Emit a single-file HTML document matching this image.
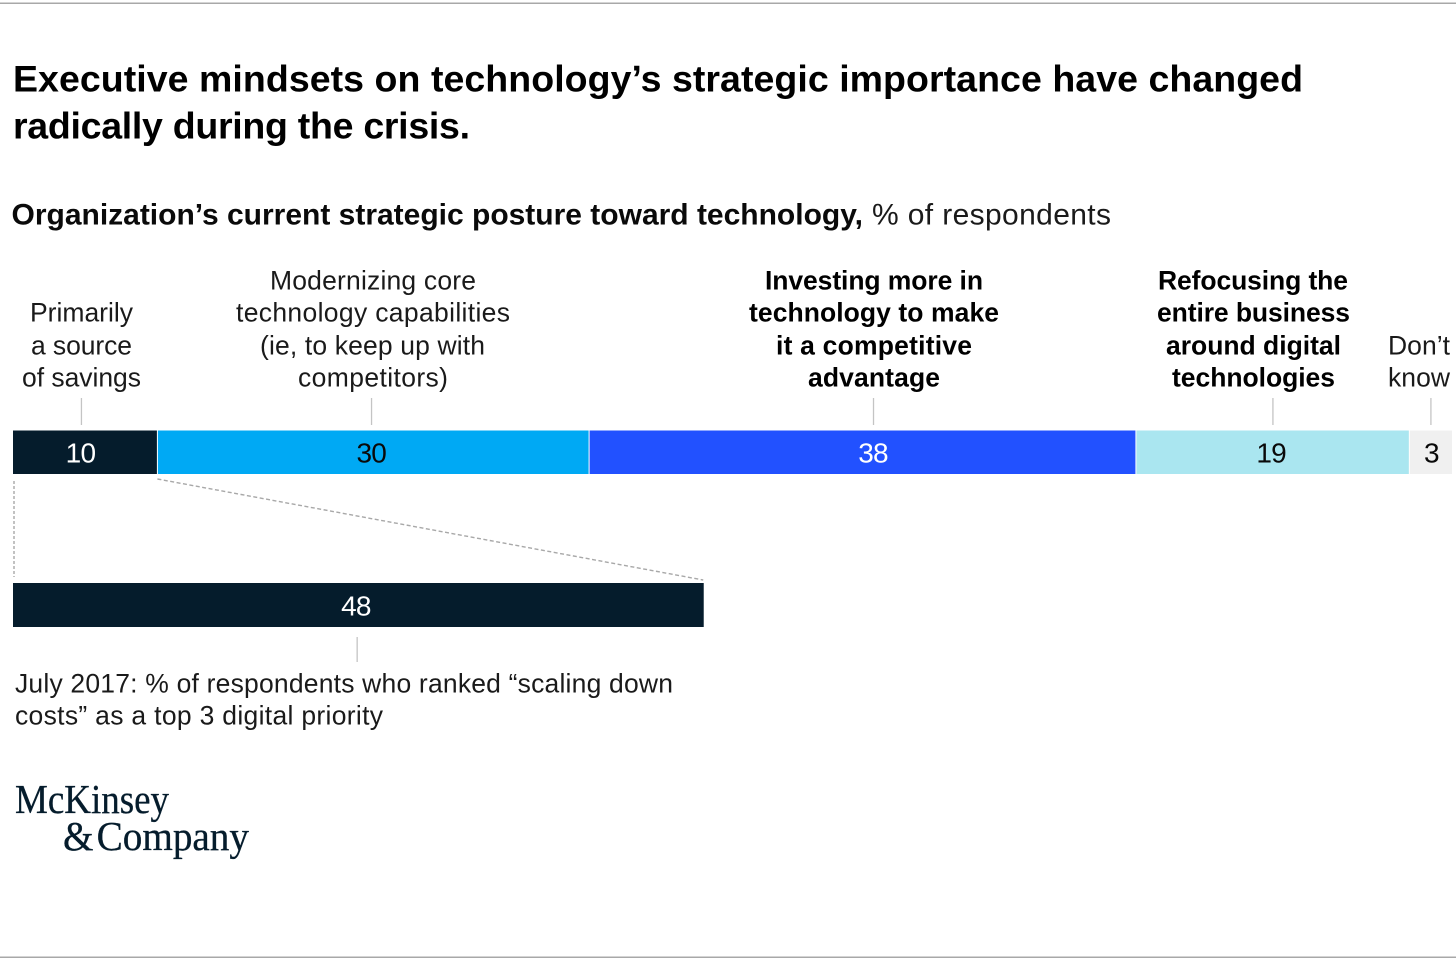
<!DOCTYPE html>
<html lang="en">
<head>
<meta charset="utf-8">
<title>Executive mindsets on technology</title>
<style>
html,body{margin:0;padding:0;background:#fff;width:1456px;height:961px;overflow:hidden}
svg{display:block}
text{font-family:"Liberation Sans",sans-serif;fill:#111}
.title{font-size:37.5px;font-weight:700;fill:#000}
.sub{font-size:30px;font-weight:700;fill:#0a0a0a}
.lbl{font-size:26.5px;fill:#1a1a1a;text-anchor:start}
.b{font-weight:700;fill:#000}
.logo{font-family:"Liberation Serif",serif;font-size:41px;fill:#051c2c;stroke:#051c2c;stroke-width:0.3px;word-spacing:-7px}
</style>
</head>
<body>
<svg id="chart" xmlns="http://www.w3.org/2000/svg" width="1456" height="961" viewBox="0 0 1456 961">
  <rect x="0" y="2.5" width="1456" height="1.5" fill="#a8a8a8"/>
  <rect x="0" y="956.5" width="1456" height="1.5" fill="#a8a8a8"/>

  <text class="title" x="13" y="91.5" textLength="1290" lengthAdjust="spacing">Executive mindsets on technology’s strategic importance have changed</text>
  <text class="title" x="13" y="138.5" textLength="457" lengthAdjust="spacing">radically during the crisis.</text>

  <text class="sub" x="11.5" y="224.5" textLength="851.5" lengthAdjust="spacing">Organization’s current strategic posture toward technology,</text>
  <text class="sub" style="font-weight:400;fill:#1a1a1a" x="872" y="224.5" textLength="239" lengthAdjust="spacing">% of respondents</text>

  <g transform="translate(0,-0.7)">
    <text class="lbl" x="30" y="322" textLength="103" lengthAdjust="spacing">Primarily</text>
    <text class="lbl" x="31" y="355" textLength="101" lengthAdjust="spacing">a source</text>
    <text class="lbl" x="22" y="387" textLength="119" lengthAdjust="spacing">of savings</text>
  </g>
  <g transform="translate(0,-0.7)">
    <text class="lbl" x="270" y="290" textLength="206" lengthAdjust="spacing">Modernizing core</text>
    <text class="lbl" x="236" y="322" textLength="274" lengthAdjust="spacing">technology capabilities</text>
    <text class="lbl" x="260" y="355" textLength="225" lengthAdjust="spacing">(ie, to keep up with</text>
    <text class="lbl" x="298" y="387" textLength="150" lengthAdjust="spacing">competitors)</text>
  </g>
  <g transform="translate(0,-0.7)">
    <text class="lbl b" x="765" y="290" textLength="218" lengthAdjust="spacing">Investing more in</text>
    <text class="lbl b" x="749" y="322" textLength="250" lengthAdjust="spacing">technology to make</text>
    <text class="lbl b" x="776" y="355" textLength="196" lengthAdjust="spacing">it a competitive</text>
    <text class="lbl b" x="808" y="387" textLength="132" lengthAdjust="spacing">advantage</text>
  </g>
  <g transform="translate(0,-0.7)">
    <text class="lbl b" x="1158" y="290" textLength="190" lengthAdjust="spacing">Refocusing the</text>
    <text class="lbl b" x="1157" y="322" textLength="193" lengthAdjust="spacing">entire business</text>
    <text class="lbl b" x="1166" y="355" textLength="175" lengthAdjust="spacing">around digital</text>
    <text class="lbl b" x="1172" y="387" textLength="163" lengthAdjust="spacing">technologies</text>
  </g>
  <g transform="translate(0,-0.7)">
    <text class="lbl" x="1388" y="355" textLength="62" lengthAdjust="spacing">Don’t</text>
    <text class="lbl" x="1388" y="387" textLength="62" lengthAdjust="spacing">know</text>
  </g>

  <g id="marks"></g>

  <g transform="translate(0,-0.7)">
    <text class="lbl" x="15" y="693" textLength="658" lengthAdjust="spacing">July 2017: % of respondents who ranked “scaling down</text>
    <text class="lbl" x="15" y="725" textLength="368" lengthAdjust="spacing">costs” as a top 3 digital priority</text>
  </g>

  <g>
    <text class="logo" x="15" y="813" textLength="154" lengthAdjust="spacingAndGlyphs">McKinsey</text>
    <text class="logo" x="63" y="850" textLength="186" lengthAdjust="spacingAndGlyphs">&amp; Company</text>
  </g>
</svg>
<script>
const categories = ['primarily-savings', 'modernizing-core', 'investing-more', 'refocusing-business', 'dont-know'];
const shares = [10, 30, 38, 19, 3];
const comparisonValue = [48];

const NS = 'http://www.w3.org/2000/svg';
const marks = document.getElementById('marks');
const x0 = 13.5;
const unit = 14.39;
function x(v) { return x0 + v * unit; }
const fills = ['#051c2c', '#00a9f4', '#2251ff', '#aae6f0', '#f0f0f0'];
const inks = ['#fff', '#0a0a0a', '#fff', '#0a0a0a', '#0a0a0a'];
const valueShift = [-5, -2, 10.5, -1.5, 0.5];
const tickShift = [-4, -1.7, 11, 0.3, 0];

function make(tag, attrs) {
  const el = document.createElementNS(NS, tag);
  for (const k in attrs) el.setAttribute(k, attrs[k]);
  marks.appendChild(el);
  return el;
}

function valueText(cx, y, value, ink) {
  const t = make('text', { x: cx, y: y, 'text-anchor': 'middle' });
  t.setAttribute('style', 'font-size:28px;letter-spacing:-0.8px;fill:' + ink);
  t.textContent = value;
  return t;
}

let running = 0;
shares.forEach(function (v, i) {
  const left = x(running);
  const right = x(running + v);
  const cx = (left + right) / 2;
  const rectLeft = i === 0 ? left - 0.5 : left + 0.5;
  const barEl = make('rect', { x: rectLeft, y: 430.5, width: right - 0.5 - rectLeft, height: 43.5, fill: fills[i] });
  
  
  const valEl = valueText(cx + valueShift[i], 462.5, v, inks[i]);
  
  
  const tickEl = make('line', { x1: cx + tickShift[i], x2: cx + tickShift[i], y1: 398, y2: 425, stroke: '#c4c4c4', 'stroke-width': 1.3 });
  
  
  running += v;
});

const compRight = x(comparisonValue[0]);
const compCenter = (x0 + compRight) / 2;
const compBar = make('rect', { x: x0 - 0.5, y: 583, width: compRight - x0, height: 44, fill: fills[0] });


const compVal = valueText(compCenter - 3, 615.5, comparisonValue[0], '#fff');


const compTick = make('line', { x1: compCenter - 1.7, x2: compCenter - 1.7, y1: 637, y2: 662, stroke: '#c4c4c4', 'stroke-width': 1.3 });



const leftDash = make('line', { x1: x0 + 0.5, x2: x0 + 0.5, y1: 481, y2: 577, stroke: '#a8a8a8', 'stroke-width': 1.4, 'stroke-dasharray': '3 2' });


const rightDash = make('line', { x1: x(shares[0]), y1: 479, x2: compRight - 1, y2: 580, stroke: '#a8a8a8', 'stroke-width': 1.4, 'stroke-dasharray': '4 2.5' });


</script>
</body>
</html>
